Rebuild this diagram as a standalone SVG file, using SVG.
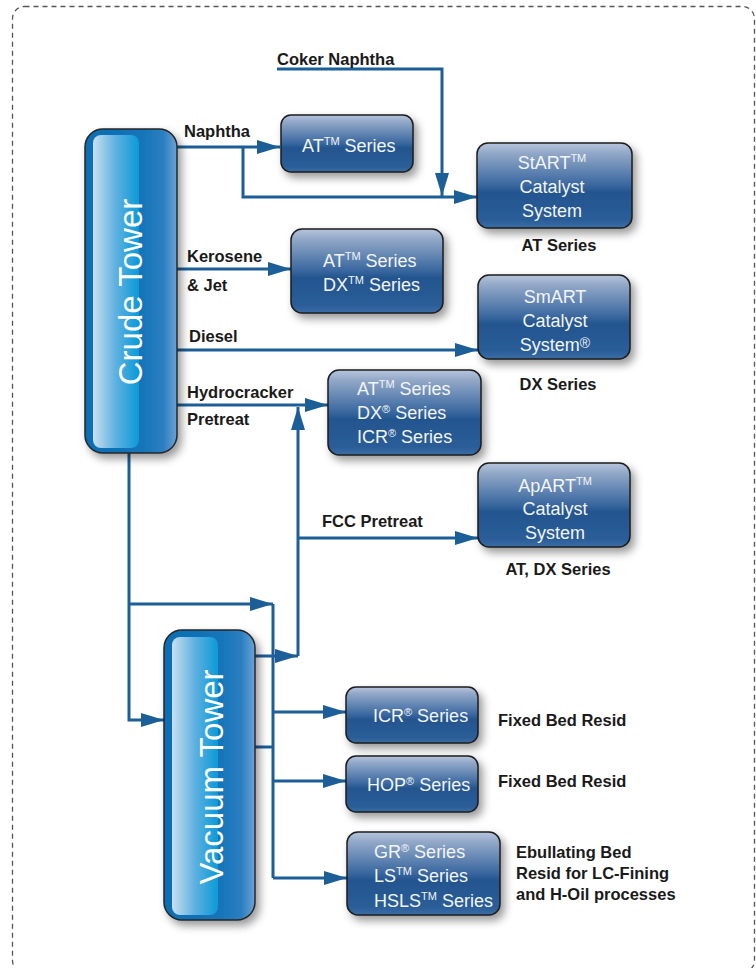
<svg xmlns="http://www.w3.org/2000/svg" width="756" height="968" viewBox="0 0 756 968">
<defs>
<linearGradient id="boxg" x1="0" y1="0" x2="0" y2="1">
<stop offset="0" stop-color="#b7c5dc"/>
<stop offset="0.12" stop-color="#92a8c8"/>
<stop offset="0.48" stop-color="#3d6aa1"/>
<stop offset="0.58" stop-color="#24558f"/>
<stop offset="0.9" stop-color="#2a5d97"/>
<stop offset="1" stop-color="#3a6da6"/>
</linearGradient>
<linearGradient id="towg" x1="0" y1="0" x2="1" y2="0">
<stop offset="0" stop-color="#0b6db3"/>
<stop offset="0.6" stop-color="#1474b9"/>
<stop offset="0.85" stop-color="#2b7ec0"/>
<stop offset="1" stop-color="#6aa3d6"/>
</linearGradient>
<linearGradient id="towin" x1="0" y1="0" x2="1" y2="0">
<stop offset="0" stop-color="#c8e0f1"/>
<stop offset="0.5" stop-color="#5eb0e0"/>
<stop offset="1" stop-color="#0a9ad8"/>
</linearGradient>
<filter id="sh" x="-20%" y="-20%" width="150%" height="150%">
<feDropShadow dx="4" dy="5" stdDeviation="4" flood-color="#000" flood-opacity="0.4"/>
</filter>
<marker id="ar" markerUnits="userSpaceOnUse" markerWidth="24" markerHeight="14" refX="23" refY="7" orient="auto">
<path d="M0,0 L23,7 L0,14 z" fill="#1b5e98"/>
</marker>
</defs>
<style>
.box{fill:url(#boxg);stroke:#1c1c1c;stroke-width:1.5;filter:url(#sh)}
.tow{fill:url(#towg);stroke:#262626;stroke-width:1.5;filter:url(#sh)}
.towin{fill:url(#towin)}
.bt{font-family:"Liberation Sans",Arial,sans-serif;font-size:18px;fill:#f2f5fa}
.tt{font-family:"Liberation Sans",Arial,sans-serif;font-size:33px;fill:#ffffff}
.lb{font-family:"Liberation Sans",Arial,sans-serif;font-size:16.5px;font-weight:bold;fill:#1a1a1a}
.sup{font-size:11px}
.c{fill:none;stroke:#1b5e98;stroke-width:3}
</style>
<rect x="12.5" y="6.5" width="742" height="966" rx="12" fill="none" stroke="#555" stroke-width="1.3" stroke-dasharray="5 4"/>

<g id="connectors">
<path class="c" d="M177,147 H280" marker-end="url(#ar)"/>
<path class="c" d="M243,147 V197 H477" marker-end="url(#ar)"/>
<path class="c" d="M277,69 H442 V196" marker-end="url(#ar)"/>
<path class="c" d="M177,269 H291" marker-end="url(#ar)"/>
<path class="c" d="M177,350 H478" marker-end="url(#ar)"/>
<path class="c" d="M177,405 H328" marker-end="url(#ar)"/>
<path class="c" d="M298,656 V407" marker-end="url(#ar)"/>
<path class="c" d="M298,538 H478" marker-end="url(#ar)"/>
<path class="c" d="M255,656 H298" marker-end="url(#ar)"/>
<path class="c" d="M129,453 V720 H164" marker-end="url(#ar)"/>
<path class="c" d="M129,604 H273" marker-end="url(#ar)"/>
<path class="c" d="M273,604 V878"/>
<path class="c" d="M255,747 H273"/>
<path class="c" d="M273,712 H346" marker-end="url(#ar)"/>
<path class="c" d="M273,781 H346" marker-end="url(#ar)"/>
<path class="c" d="M273,878 H347" marker-end="url(#ar)"/>
</g>

<g id="crude-tower">
<rect class="tow" x="85" y="129" width="92" height="324" rx="18"/>
<rect class="towin" x="93" y="135" width="46" height="313" rx="8"/>
<text class="tt" text-anchor="middle" transform="translate(142,292) rotate(-90)">Crude Tower</text>
</g>

<g id="vacuum-tower">
<rect class="tow" x="164" y="630" width="91" height="290" rx="18"/>
<rect class="towin" x="172" y="637" width="46" height="278" rx="8"/>
<text class="tt" text-anchor="middle" transform="translate(223,777) rotate(-90)">Vacuum Tower</text>
</g>

<g id="at-series-1">
<rect class="box" x="281" y="115" width="132" height="57" rx="10"/>
<text class="bt" x="302" y="152">AT<tspan class="sup" dy="-7">TM</tspan><tspan dy="7"> Series</tspan></text>
</g>

<g id="start">
<rect class="box" x="477" y="143" width="155" height="85" rx="11"/>
<text class="bt" text-anchor="middle" x="552" y="169">StART<tspan class="sup" dy="-7">TM</tspan></text>
<text class="bt" text-anchor="middle" x="552" y="193">Catalyst</text>
<text class="bt" text-anchor="middle" x="552" y="217">System</text>
<text class="lb" text-anchor="middle" x="559" y="251">AT Series</text>
</g>

<g id="kerosene-box">
<rect class="box" x="291" y="229" width="152" height="84" rx="11"/>
<text class="bt" x="323" y="267">AT<tspan class="sup" dy="-7">TM</tspan><tspan dy="7"> Series</tspan></text>
<text class="bt" x="323" y="291">DX<tspan class="sup" dy="-7">TM</tspan><tspan dy="7"> Series</tspan></text>
</g>

<g id="smart">
<rect class="box" x="478" y="275" width="152" height="84" rx="11"/>
<text class="bt" text-anchor="middle" x="555" y="303">SmART</text>
<text class="bt" text-anchor="middle" x="555" y="327">Catalyst</text>
<text class="bt" text-anchor="middle" x="555" y="351">System<tspan font-size="14" dy="-3">®</tspan></text>
<text class="lb" text-anchor="middle" x="558" y="390">DX Series</text>
</g>

<g id="hydro-box">
<rect class="box" x="328" y="370" width="153" height="85" rx="11"/>
<text class="bt" x="357" y="395">AT<tspan class="sup" dy="-7">TM</tspan><tspan dy="7"> Series</tspan></text>
<text class="bt" x="357" y="419">DX<tspan class="sup" dy="-6">®</tspan><tspan dy="6"> Series</tspan></text>
<text class="bt" x="357" y="443">ICR<tspan class="sup" dy="-6">®</tspan><tspan dy="6"> Series</tspan></text>
</g>

<g id="apart">
<rect class="box" x="478" y="463" width="152" height="84" rx="11"/>
<text class="bt" text-anchor="middle" x="555" y="492">ApART<tspan class="sup" dy="-7">TM</tspan></text>
<text class="bt" text-anchor="middle" x="555" y="515">Catalyst</text>
<text class="bt" text-anchor="middle" x="555" y="539">System</text>
<text class="lb" text-anchor="middle" x="558" y="575">AT, DX Series</text>
</g>

<g id="icr-box">
<rect class="box" x="346" y="687" width="132" height="56" rx="10"/>
<text class="bt" x="373" y="722">ICR<tspan class="sup" dy="-6">®</tspan><tspan dy="6"> Series</tspan></text>
<text class="lb" x="498" y="726">Fixed Bed Resid</text>
</g>

<g id="hop-box">
<rect class="box" x="346" y="756" width="132" height="56" rx="10"/>
<text class="bt" x="367" y="791">HOP<tspan class="sup" dy="-6">®</tspan><tspan dy="6"> Series</tspan></text>
<text class="lb" x="498" y="787">Fixed Bed Resid</text>
</g>

<g id="gr-box">
<rect class="box" x="347" y="832" width="153" height="83" rx="11"/>
<text class="bt" x="374" y="858">GR<tspan class="sup" dy="-6">®</tspan><tspan dy="6"> Series</tspan></text>
<text class="bt" x="374" y="882">LS<tspan class="sup" dy="-7">TM</tspan><tspan dy="7"> Series</tspan></text>
<text class="bt" x="374" y="907">HSLS<tspan class="sup" dy="-7">TM</tspan><tspan dy="7"> Series</tspan></text>
<text class="lb" x="516" y="858">Ebullating Bed</text>
<text class="lb" x="516" y="879">Resid for LC-Fining</text>
<text class="lb" x="516" y="900">and H-Oil processes</text>
</g>

<g id="labels">
<text class="lb" x="277" y="65">Coker Naphtha</text>
<text class="lb" x="184" y="137">Naphtha</text>
<text class="lb" x="187" y="262">Kerosene</text>
<text class="lb" x="187" y="291">&amp; Jet</text>
<text class="lb" x="189" y="342">Diesel</text>
<text class="lb" x="187" y="398">Hydrocracker</text>
<text class="lb" x="187" y="425">Pretreat</text>
<text class="lb" x="322" y="527">FCC Pretreat</text>
</g>
</svg>
